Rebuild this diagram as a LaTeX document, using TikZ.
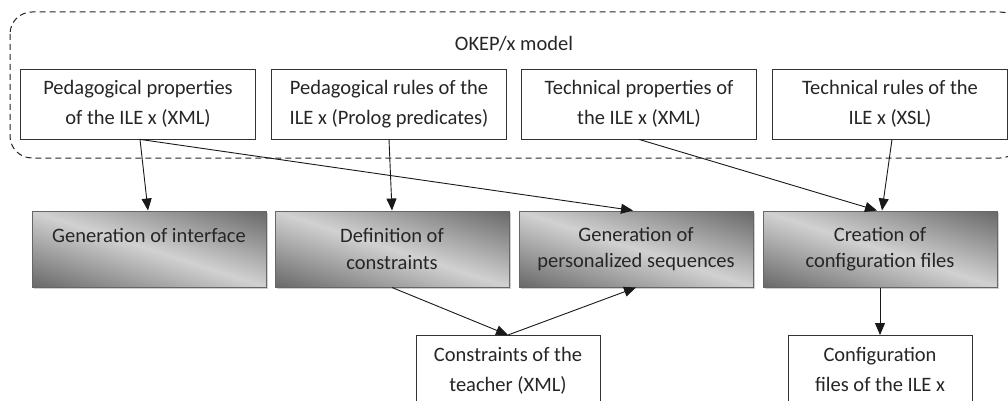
\documentclass[tikz,border=0pt]{standalone}
\usepackage{fontspec}
\setmainfont{Carlito}
\usetikzlibrary{arrows.meta,shadows}
\definecolor{dkg}{gray}{0.41}
\definecolor{ltg}{gray}{0.82}
\pgfdeclarehorizontalshading{boxshade}{100bp}{color(0bp)=(dkg); color(38bp)=(dkg); color(50bp)=(ltg); color(62bp)=(dkg); color(100bp)=(dkg)}
\begin{document}
\begin{tikzpicture}[x=1pt,y=-1pt,
  every node/.style={font=\fontsize{20.5}{30}\selectfont, text=black!85},
  topbox/.style={draw=black!80, line width=0.8pt, fill=white, minimum width=235pt, minimum height=70pt, align=center, inner sep=0pt},
  midbox/.style={draw=black!60, line width=1pt, minimum width=234pt, minimum height=76pt, align=center, inner sep=0pt,
     font=\fontsize{20.5}{26.5}\selectfont, fill=dkg,
     path picture={
       \shade[shading=boxshade, shading angle=72]
         ([shift={(-150,-150)}]path picture bounding box.center) rectangle
         ([shift={(150,150)}]path picture bounding box.center);},
     drop shadow={shadow xshift=2pt, shadow yshift=-2pt, fill=black!30, opacity=0.6}},
  botbox/.style={draw=black!80, line width=0.8pt, fill=white, minimum width=184pt, minimum height=80pt, align=center, inner sep=0pt},
  arr/.style={-{Triangle[length=12pt,width=10pt]}, line width=0.9pt, black!90},
  grp/.style={draw=black!85, line width=1pt, dash pattern=on 6pt off 4pt, rounded corners=22pt}
]
\clip (0,0) rectangle (1008,401);
\fill[white] (0,0) rectangle (1008,401);
\draw[grp] (10,12) rectangle (1022,158);
\node (title) at (514,44) {OKEP/x model};

\node[topbox] (pp) at (138,104) {Pedagogical properties\\of the ILE x (XML)};
\node[topbox] (pr) at (389,104) {Pedagogical rules of the\\ILE x (Prolog predicates)};
\node[topbox] (tp) at (639,104) {Technical properties of\\the ILE x (XML)};
\node[topbox] (tr) at (890,104) {Technical rules of the\\ILE x (XSL)};

\node[midbox] (gi) at (149,249) {Generation of interface\\\mbox{}};
\node[midbox] (dc) at (392,249) {Definition of\\constraints};
\node[midbox] (gs) at (636,249) {Generation of\\personalized sequences};
\node[midbox] (cc) at (880,249) {Creation of\\configuration files};

\node[botbox, anchor=north] (ct) at (508,335) {\rule{0pt}{22pt}Constraints of the\\teacher (XML)\\[-10pt]\mbox{}};
\node[botbox, anchor=north] (cf) at (880,335) {\rule{0pt}{22pt}Configuration\\files of the ILE x\\[-10pt]\mbox{}};

\coordinate (ppb) at ([xshift=2pt]pp.south);
\draw[arr] (ppb) -- ([xshift=-1pt]gi.north);
\draw[arr] (ppb) -- ([xshift=-3pt]gs.north);
\draw[arr] (pr.south) -- (dc.north);
\draw[arr] (tp.south) -- ([xshift=-3pt]cc.north);
\draw[arr] ([xshift=2pt]tr.south) -- ([xshift=2pt]cc.north);
\draw[arr] (dc.south) -- (ct.north);
\draw[arr] (ct.north) -- (gs.south);
\draw[arr] (cc.south) -- (cf.north);
\end{tikzpicture}
\end{document}
